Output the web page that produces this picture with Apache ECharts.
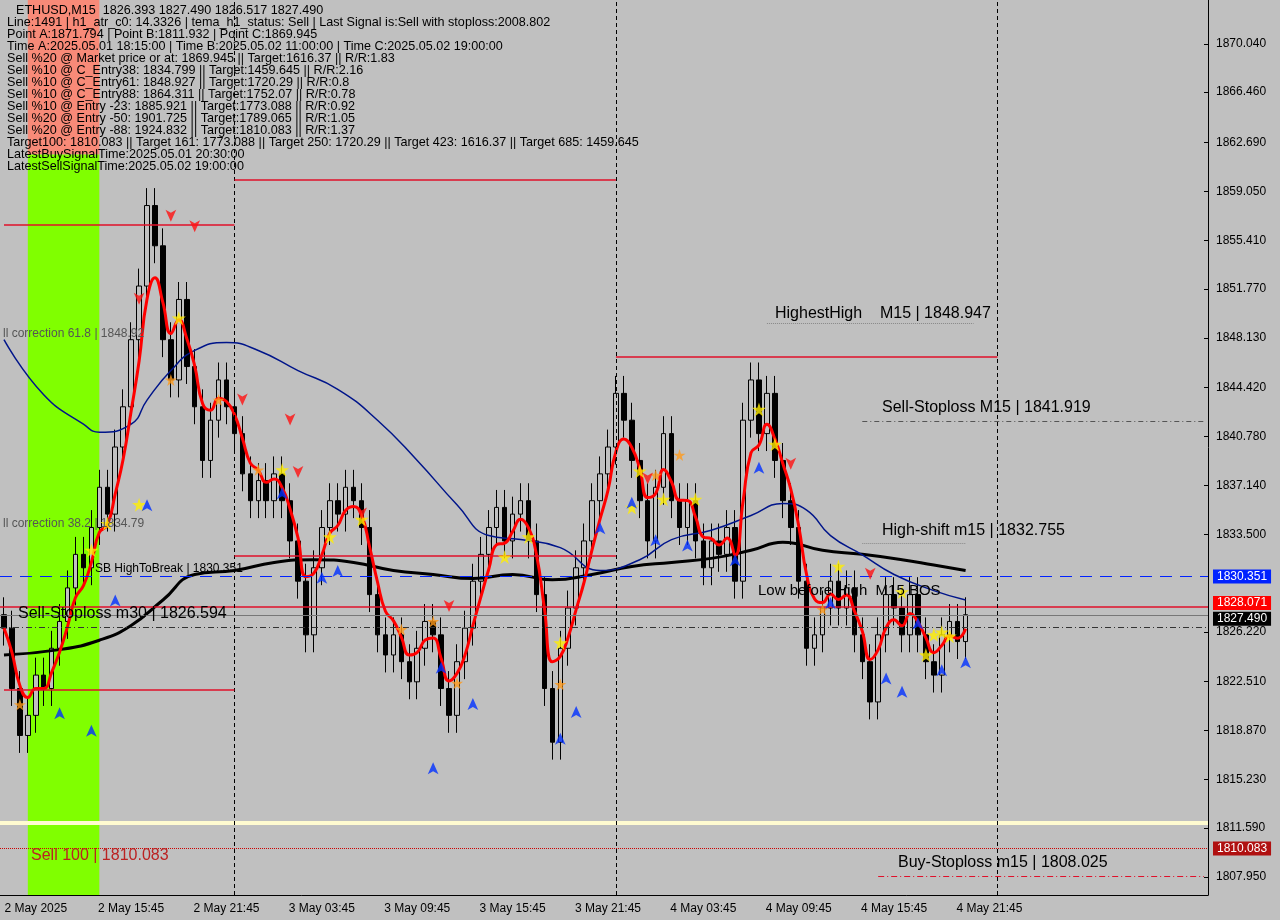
<!DOCTYPE html>
<html><head><meta charset="utf-8">
<script src="https://cdn.jsdelivr.net/npm/echarts@6/dist/echarts.min.js"></script>
<style>html,body{margin:0;padding:0;background:#c0c0c0}#c{width:1280px;height:920px}</style>
</head><body><div id="c"></div>
<script>
const closes=[1826.5,1822,1818.5,1820,1823,1822,1825,1827,1829.5,1832,1831,1834,1837,1835,1840,1843,1848,1852,1858,1855,1848,1845,1851,1846,1843,1839,1842,1845,1843,1841,1838,1836,1837.5,1836,1838,1836,1833,1830,1826,1831,1834,1836,1835,1837,1836,1834,1829,1826,1824.5,1826,1824,1822.5,1825,1827,1826,1822,1820,1824,1826.5,1830,1832,1834,1835.5,1833,1835,1836,1833,1829,1822,1818,1825,1828,1831,1833,1836,1838,1840,1844,1842,1839,1836,1833,1837,1841,1836,1834,1836,1833,1831,1833,1832,1834,1830,1842,1845,1841,1844,1839,1836,1834,1830,1825,1826,1828,1830,1828,1829.5,1826,1824,1821,1826,1829,1828,1826,1829,1826,1824,1823,1826,1827,1825.5,1827.5];
const firstOpen=1827.5;
const blueMA=[[0,1848],[5,1843.9],[10,1841.7],[12,1841.1],[16,1841.7],[18,1843.5],[21,1845.7],[24,1847.2],[28,1847.8],[32,1847.2],[37,1845.7],[42,1844.3],[47,1842],[52,1839],[57,1835.7],[61,1833.4],[65,1833.1],[70,1832.5],[75,1830.8],[80,1831.6],[84,1833.1],[89,1833.8],[94,1834.9],[98,1835.8],[101,1835.3],[104,1833.4],[108,1831.96],[112,1830.5],[117,1829.3],[121,1828.6]];
const blackMA=[[0,1824.5],[7,1824.9],[12,1825.6],[16,1826.7],[20,1828.6],[24,1830.5],[29,1830.8],[34,1831.4],[39,1831.6],[44,1831.4],[49,1830.8],[54,1830.5],[59,1830.2],[64,1830.5],[69,1830.1],[74,1830.5],[79,1831.1],[84,1831.4],[89,1831.7],[94,1832.3],[98,1832.9],[103,1832.3],[108,1832],[113,1831.6],[117,1831.2],[121,1830.8]];
const xTickLabels=["2 May 2025","2 May 15:45","2 May 21:45","3 May 03:45","3 May 09:45","3 May 15:45","3 May 21:45","4 May 03:45","4 May 09:45","4 May 15:45","4 May 21:45"];
const yTicks=[1807.950,1811.590,1815.230,1818.870,1822.510,1826.220,1833.500,1837.140,1840.780,1844.420,1848.130,1851.770,1855.410,1859.050,1862.690,1866.460,1870.040];
const yellowStars=[[22,1849.6],[45,1834.6],[41,1833.3],[63,1831.8],[66,1833.3],[70,1825.4],[79,1835.5],[80,1838.2],[83,1836.1],[87,1836.1],[95,1842.8],[97,1840.2],[105,1831.1],[113,1829.2],[116,1824.5],[117,1826],[118,1826.2],[119,1825.9],[13,1834.3],[11,1832.3],[17,1835.7],[35,1838.3]];
const orangeStars=[[21,1845],[27,1843.5],[32,1838.3],[50,1826.4],[54,1827],[57,1822.4],[70,1822.3],[82,1837.9],[85,1839.4],[103,1827.9],[2,1820.8]];
const redArrows=[[17,1850.6],[21,1856.8],[24,1856],[30,1843.1],[36,1841.6],[37,1837.7],[56,1827.7],[81,1837.2],[99,1838.3],[109,1830.1],[45,1834.6]];
const blueArrows=[[7,1820.6],[11,1819.3],[14,1829],[18,1836.1],[35,1837],[40,1830.7],[42,1831.2],[54,1816.5],[55,1824],[59,1821.3],[70,1818.7],[72,1820.7],[75,1834.4],[79,1836.3],[82,1833.5],[86,1833.1],[92,1832],[95,1838.9],[111,1823.2],[113,1822.2],[115,1827.3],[118,1823.8],[121,1824.4],[104,1828.8]];
const infoLines=["Line:1491 | h1_atr_c0: 14.3326 | tema_h1_status: Sell | Last Signal is:Sell with stoploss:2008.802","Point A:1871.794 | Point B:1811.932 | Point C:1869.945","Time A:2025.05.01 18:15:00 | Time B:2025.05.02 11:00:00 | Time C:2025.05.02 19:00:00","Sell %20 @ Market price or at: 1869.945 || Target:1616.37 || R/R:1.83","Sell %10 @ C_Entry38: 1834.799 || Target:1459.645 || R/R:2.16","Sell %10 @ C_Entry61: 1848.927 || Target:1720.29 || R/R:0.8","Sell %10 @ C_Entry88: 1864.311 || Target:1752.07 || R/R:0.78","Sell %10 @ Entry -23: 1885.921 || Target:1773.088 || R/R:0.92","Sell %20 @ Entry -50: 1901.725 || Target:1789.065 || R/R:1.05","Sell %20 @ Entry -88: 1924.832 || Target:1810.083 || R/R:1.37","Target100: 1810.083 || Target 161: 1773.088 || Target 250: 1720.29 || Target 423: 1616.37 || Target 685: 1459.645","LatestBuySignalTime:2025.05.01 20:30:00","LatestSellSignalTime:2025.05.02 19:00:00"];

const N=152;
const cats=[];for(let i=0;i<N;i++){const k=(i-4)/12;cats.push(Number.isInteger(k)&&k>=0&&k<xTickLabels.length?xTickLabels[k]:'');}
const ohlc=closes.map((c,i)=>{const o=i?closes[i-1]:firstOpen;return [o,c,Math.min(o,c)-1.3,Math.max(o,c)+1.3];});
function ema(p){const a=2/(p+1);let e=closes[0];return closes.map(c=>(e=e+a*(c-e)).toFixed(2));}
const star='path://M50,0 L61,35 L98,35 L68,57 L79,91 L50,70 L21,91 L32,57 L2,35 L39,35 Z';
const font='Liberation Sans';
const chart=echarts.init(document.getElementById('c'));
const gtexts=[{t:'ETHUSD,M15  1826.393 1827.490 1826.517 1827.490',x:16,y:4}].concat(infoLines.map((t,i)=>({t:t,x:7,y:16+i*12})));
const graphic=gtexts.map(g=>({type:'text',left:g.x,top:g.y,z:100,style:{text:g.t,fill:'#000',font:'12.6px '+font}}));
[['HighestHigh    M15 | 1848.947',775,306,'#000',16],['Sell-Stoploss M15 | 1841.919',882,400,'#000',16],['High-shift m15 | 1832.755',882,523,'#000',16],['Low before High  M15 BOS',758,583,'#000',15],['Sell-Stoploss m30 | 1826.594',18,606,'#000',16],['Buy-Stoploss m15 | 1808.025',898,855,'#000',16],['Sell 100 | 1810.083',31,848,'#b22',16],['ll correction 61.8 | 1848.92',3,328,'#555',12],['ll correction 38.2 | 1834.79',3,518,'#555',12],['SB HighToBreak | 1830.351',95,563,'#000',12]].forEach(a=>graphic.push({type:'text',left:a[1],top:a[2],z:100,style:{text:a[0],fill:a[3],font:a[4]+'px '+font}}));
const L=[
 [[29,1859.95],[77,1859.95],'#e0102a','solid',1.5],
 [[0,1856.6],[29,1856.6],'#e0102a','solid',1.5],
 [[77,1846.7],[125,1846.7],'#e0102a','solid',1.5],
 [[29,1831.9],[77,1831.9],'#e0102a','solid',1.5],
 [[0,1821.9],[29,1821.9],'#e0102a','solid',1.5],
 [[108,1841.9],[N-1,1841.9],'#555',[5,3,1,3],1],
 [[110,1808.0],[N-1,1808.0],'#e0102a',[6,3,1,3],1],
 [[96,1849.2],[122,1849.2],'#888','dotted',1],
 [[108,1832.8],[121,1832.8],'#888','dotted',1]
];
const mlData=[
    {yAxis:1830.351,lineStyle:{color:'#0022ff',type:[12,8],width:1},label:{show:true,position:'end',formatter:'1830.351',backgroundColor:'#0022ff',color:'#fff',padding:[1,4],fontFamily:font,fontSize:12}},
    {yAxis:1828.071,lineStyle:{color:'#e0102a',type:'solid',width:1.5},label:{show:true,position:'end',formatter:'1828.071',backgroundColor:'#ff0000',color:'#fff',padding:[1,4],fontFamily:font,fontSize:12,offset:[0,-4]}},
    {yAxis:1827.49,lineStyle:{color:'#777',type:'solid',width:1},label:{show:true,position:'end',formatter:'1827.490',backgroundColor:'#000',color:'#fff',padding:[1,4],fontFamily:font,fontSize:12,offset:[0,4]}},
    {yAxis:1826.594,lineStyle:{color:'#333',type:[6,3,1,3],width:1},label:{show:false}},
    {yAxis:1812.0,lineStyle:{color:'#fffbd0',type:'solid',width:4},label:{show:false}},
    {yAxis:1810.083,lineStyle:{color:'#c00',type:'dotted',width:1},label:{show:true,position:'end',formatter:'1810.083',backgroundColor:'#b01010',color:'#fff',padding:[1,4],fontFamily:font,fontSize:12}},
    {xAxis:29,lineStyle:{color:'#000',type:[4,3],width:1},label:{show:false}},
    {xAxis:77,lineStyle:{color:'#000',type:[4,3],width:1},label:{show:false}},
    {xAxis:125,lineStyle:{color:'#000',type:[4,3],width:1},label:{show:false}}
].concat(L.map(l=>[{coord:l[0],lineStyle:{color:l[2],type:l[3],width:l[4]},label:{show:false}},{coord:l[1]}]));
const option={
 backgroundColor:'#c0c0c0',animation:false,
 grid:{left:0,right:72,top:0,bottom:25},
 xAxis:{type:'category',data:cats,boundaryGap:true,axisLine:{lineStyle:{color:'#000'}},axisTick:{show:false},
  axisLabel:{interval:(i,v)=>v!=='',color:'#000',fontFamily:font,fontSize:12},splitLine:{show:false}},
 yAxis:{type:'value',position:'right',min:1806.61,max:1873.32,scale:true,
  axisLine:{show:true,lineStyle:{color:'#000'}},axisTick:{show:true,customValues:yTicks,inside:true,length:4},
  axisLabel:{customValues:yTicks,color:'#000',fontFamily:font,fontSize:12,margin:8,formatter:v=>v.toFixed(3)},splitLine:{show:false}},
 graphic:graphic,
 series:[
  {type:'candlestick',data:ohlc,barWidth:5,itemStyle:{color:'#c0c0c0',color0:'#000',borderColor:'#000',borderColor0:'#000',borderWidth:1},
   markArea:{silent:true,data:[
    [{xAxis:3,yAxis:1873.32,itemStyle:{color:'#f88a78'}},{xAxis:12,yAxis:1861.8}],
    [{xAxis:3,yAxis:1861.8,itemStyle:{color:'#80ff00'}},{xAxis:12,yAxis:1806.61}]]},
   markLine:{silent:true,symbol:'none',data:mlData}
  },
  {type:'line',data:blackMA,symbol:'none',smooth:true,lineStyle:{color:'#000',width:3},z:3},
  {type:'line',data:blueMA,symbol:'none',smooth:true,lineStyle:{color:'#00158a',width:1.5},z:3},
  {type:'line',data:ema(4),symbol:'none',smooth:true,lineStyle:{color:'#f00',width:3},z:4},
  {type:'scatter',data:yellowStars,symbol:star,symbolSize:14,itemStyle:{color:'#ffee00'},z:6},
  {type:'scatter',data:orangeStars,symbol:star,symbolSize:12,itemStyle:{color:'#ff9a1a'},z:6},
  {type:'scatter',data:redArrows,symbol:'arrow',symbolRotate:180,symbolSize:[8,12],itemStyle:{color:'#ff1010'},z:6},
  {type:'scatter',data:blueArrows,symbol:'arrow',symbolSize:[8,12],itemStyle:{color:'#0030ff'},z:6}
 ]
};
chart.setOption(option);
</script></body></html>
